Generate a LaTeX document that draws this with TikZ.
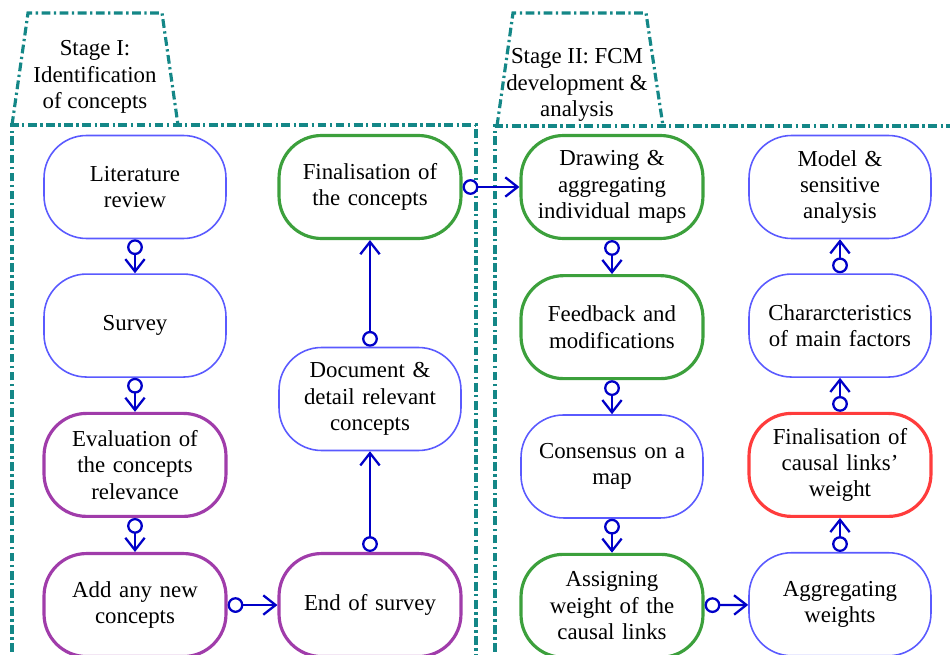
\documentclass[tikz,border=0pt]{standalone}
\usepackage{fontspec}
\setmainfont{Liberation Serif}
\usepackage{tikz}
\usetikzlibrary{arrows.meta, positioning}
\definecolor{boxblue}{RGB}{90,90,255}
\definecolor{boxgreen}{RGB}{60,160,60}
\definecolor{boxpurple}{RGB}{160,60,170}
\definecolor{boxred}{RGB}{255,60,60}
\definecolor{linkblue}{RGB}{0,0,200}
\definecolor{frameteal}{RGB}{20,135,135}
\tikzset{
  basebox/.style={
    rectangle, rounded corners=0.85cm, fill=white,
    minimum width=3.64cm, minimum height=2.06cm, text width=3.3cm,
    align=center, font=\fontsize{13pt}{15pt}\selectfont
  },
  bluebox/.style={basebox, draw=boxblue, line width=0.9pt},
  greenbox/.style={basebox, draw=boxgreen, line width=1.8pt},
  purplebox/.style={basebox, draw=boxpurple, line width=1.8pt},
  redbox/.style={basebox, draw=boxred, line width=1.8pt},
  link/.style={line width=1.3pt, color=linkblue,
    {Circle[open,fill=white,length=9pt,width=9pt]}-{Straight Barb[length=7pt,width=11pt]}},
  frame/.style={line width=1.8pt, color=frameteal,
    dash pattern=on 5pt off 2pt on 1.3pt off 2pt},
  stagelabel/.style={align=center, font=\fontsize{13pt}{15pt}\selectfont},
}
\begin{document}
\begin{tikzpicture}[x=0.02cm, y=-0.02cm, node distance=0.68cm]
  \useasboundingbox (0,0) rectangle (950,655);

  % stage frames
  \draw [frame] (12,670) -- (12,125) -- (476,125) -- (476,670);
  \draw [frame] (12,125) -- (28,13) -- (162,13) -- (178,125);
  \draw [frame] (495,670) -- (495,126) -- (960,126);
  \draw [frame] (497,126) -- (513,13) -- (646,13) -- (663,126);
  \node (stageone) [stagelabel] at (95,77)  {Stage I:\\Identification\\of concepts};
  \node (stagetwo) [stagelabel] at (577,85) {Stage II: FCM\\development \&\\analysis};

  % stage I
  \node (lit)    [bluebox]   at (135,187)      {Literature\\review};
  \node (survey) [bluebox,   below=of lit]     {Survey};
  \node (eval)   [purplebox, below=of survey]  {Evaluation of\\the concepts\\relevance};
  \node (addnew) [purplebox, below=of eval]    {Add any new\\concepts};
  \node (finc)   [greenbox]  at (370,187)      {Finalisation of\\the concepts};
  \node (doc)    [bluebox]   at (370,399)      {Document \&\\detail relevant\\concepts};
  \node (endsv)  [purplebox] at (addnew -| doc) {End of survey};

  % stage II
  \node (draw)   [greenbox]  at (612,187)      {Drawing \&\\aggregating\\individual maps};
  \node (feed)   [greenbox,  below=of draw]    {Feedback and\\modifications};
  \node (cons)   [bluebox,   below=of feed]    {Consensus on a\\map};
  \node (assign) [greenbox,  below=of cons]    {Assigning\\weight of the\\causal links};
  \node (model)  [bluebox]   at (840,187)      {Model \&\\sensitive\\analysis};
  \node (chars)  [bluebox,   below=of model]   {Chararcteristics\\of main factors};
  \node (fincl)  [redbox,    below=of chars]   {Finalisation of\\causal links'\\weight};
  \node (aggr)   [bluebox,   below=of fincl]   {Aggregating\\weights};

  \draw [link] (lit)    -- (survey);
  \draw [link] (survey) -- (eval);
  \draw [link] (eval)   -- (addnew);
  \draw [link] (addnew) -- (endsv);
  \draw [link] (endsv)  -- (doc);
  \draw [link] (doc)    -- (finc);
  \draw [link] (finc)   -- (draw);
  \draw [link] (draw)   -- (feed);
  \draw [link] (feed)   -- (cons);
  \draw [link] (cons)   -- (assign);
  \draw [link] (assign) -- (aggr);
  \draw [link] (aggr)   -- (fincl);
  \draw [link] (fincl)  -- (chars);
  \draw [link] (chars)  -- (model);
\end{tikzpicture}
\end{document}
